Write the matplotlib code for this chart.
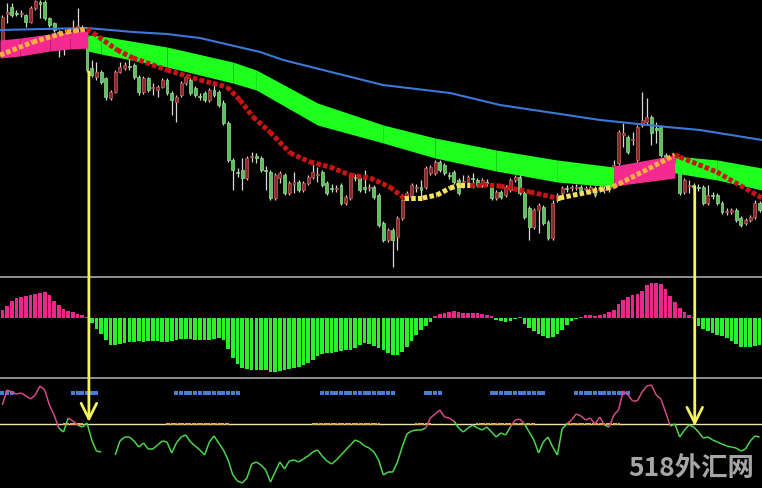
import numpy as np
import matplotlib.pyplot as plt
from matplotlib.collections import LineCollection
from matplotlib.patches import ConnectionPatch

# ---- candles (screen-level readings, axis is inverted: small = high) ----
c_open = [40, 14, 7, 13, 14, 15, 22, 8, 2, 2, 18, 23, 32, 40, 38, 30, 28, 27, 37, 68,
          77, 72, 78, 98, 92, 72, 68, 66, 65, 77, 92, 78, 88, 90, 87, 80, 93, 102, 95, 83,
          80, 88, 96, 93, 100, 90, 92, 103, 123, 160, 172, 170, 178, 157, 156, 158, 170, 172, 198, 178,
          175, 193, 184, 182, 190, 183, 177, 175, 172, 183, 188, 189, 185, 203, 198, 177, 178, 187, 188, 187,
          195, 223, 240, 230, 237, 218, 197, 197, 188, 187, 187, 173, 173, 162, 165, 175, 172, 180, 182, 182,
          178, 180, 185, 182, 185, 198, 192, 195, 190, 180, 177, 193, 208, 227, 210, 207, 222, 238, 200, 193,
          188, 188, 187, 187, 189, 192, 188, 190, 190, 188, 175, 163, 135, 137, 140, 160, 125, 122, 117, 128,
          127, 155, 160, 165, 172, 192, 186, 185, 187, 187, 203, 195, 195, 203, 212, 212, 210, 218, 223, 220,
          217, 203]
c_close = [17, 12, 15, 14, 13, 22, 8, 1, 4, 18, 25, 30, 40, 38, 36, 28, 26, 35, 70, 75,
           72, 82, 97, 92, 72, 67, 65, 67, 77, 92, 78, 90, 87, 87, 80, 93, 100, 97, 83, 77,
           93, 95, 97, 100, 90, 95, 105, 123, 160, 170, 173, 178, 158, 156, 158, 170, 171, 198, 175, 173,
           193, 183, 182, 190, 183, 177, 172, 174, 185, 193, 189, 188, 203, 197, 175, 178, 190, 189, 187, 197,
           225, 240, 230, 240, 218, 200, 193, 185, 187, 190, 168, 167, 162, 170, 173, 176, 182, 193, 181, 177,
           179, 185, 180, 183, 198, 192, 197, 187, 180, 177, 193, 217, 227, 210, 205, 223, 238, 203, 195, 188,
           189, 187, 187, 190, 188, 187, 195, 187, 189, 186, 165, 132, 133, 152, 139, 127, 120, 117, 133, 130,
           155, 160, 165, 170, 193, 180, 185, 187, 188, 203, 195, 196, 203, 212, 211, 210, 220, 225, 220, 217,
           203, 210]
c_top = [15, 3, 3, 10, 10, 14, 6, 0, 0, 0, 17, 22, 30, 35, 33, 20, 8, 25, 35, 60,
         62, 70, 77, 90, 70, 62, 62, 58, 63, 75, 76, 77, 83, 85, 78, 78, 91, 95, 81, 75,
         78, 86, 93, 91, 88, 85, 90, 100, 121, 158, 168, 158, 156, 152, 153, 156, 166, 170, 173, 171,
         173, 181, 172, 180, 181, 175, 163, 167, 170, 181, 184, 185, 183, 195, 173, 174, 176, 170, 184, 185,
         193, 221, 228, 228, 216, 198, 191, 183, 184, 180, 166, 165, 160, 160, 163, 172, 170, 178, 175, 175,
         173, 178, 178, 179, 183, 190, 190, 185, 178, 175, 175, 191, 206, 208, 203, 205, 220, 200, 193, 186,
         185, 185, 184, 185, 186, 185, 186, 185, 186, 180, 160, 130, 123, 135, 132, 125, 92, 98, 115, 122,
         125, 153, 158, 163, 170, 178, 180, 183, 184, 185, 185, 192, 193, 201, 208, 208, 208, 216, 218, 215,
         200, 201]
c_bot = [42, 23, 17, 16, 17, 27, 23, 10, 18, 20, 27, 32, 57, 55, 42, 34, 32, 38, 72, 77,
         80, 84, 100, 100, 93, 73, 70, 70, 79, 95, 94, 92, 95, 97, 88, 95, 115, 122, 97, 85,
         95, 97, 100, 102, 102, 97, 107, 125, 162, 190, 177, 190, 180, 162, 163, 172, 190, 200, 200, 183,
         195, 195, 193, 192, 192, 185, 179, 182, 187, 195, 192, 192, 205, 205, 200, 181, 192, 193, 191, 199,
         227, 242, 242, 267, 250, 220, 199, 199, 192, 197, 189, 175, 175, 172, 175, 179, 184, 195, 188, 184,
         188, 187, 187, 186, 200, 200, 199, 197, 192, 182, 195, 219, 240, 229, 233, 225, 240, 240, 202, 195,
         192, 191, 190, 192, 192, 194, 197, 192, 193, 192, 175, 165, 147, 154, 145, 162, 127, 124, 145, 143,
         157, 162, 168, 172, 195, 194, 193, 190, 191, 205, 205, 199, 205, 214, 215, 214, 222, 227, 225, 222,
         219, 212]

# ---- slow moving average (blue) ----
ma_bar = [-0.5, 18, 27.8, 35, 42, 54.8, 59.7, 80.9, 95.2, 105.8, 127.1, 141.3, 148.3, 161.5]
ma_lvl = [30, 28, 32, 34, 38, 52, 60, 85, 93, 105, 120, 127, 130, 140]

# ---- trend ribbon ----
band_bar = [-0.5, 3.8, 10.1, 14.4, 18.2, 18.2, 21, 35, 49, 54, 67, 81, 92, 105, 118,
            130, 130, 143, 143, 152, 161.5]
band_top = [40, 38, 34, 32, 31, 35, 36, 47, 62, 70, 103, 125, 138, 150, 160,
            167, 166, 155, 156, 160, 168]
band_bot = [58, 56, 51, 49, 48, 51, 54, 67, 83, 90, 125, 143, 158, 171, 182,
            187, 186, 178, 173, 180, 190]
band_col = ['P', 'P', 'P', 'P', 'P', 'G', 'G', 'G', 'G', 'G', 'G', 'G', 'G', 'G',
            'G', 'G', 'P', 'P', 'G', 'G']

# ---- stepped signal line (dotted) ----
dots_bar = [-0.5, 6.5, 13.7, 18.0, 19.3, 24.4, 27.8, 35, 42, 47.8, 50.5, 53.3, 56.9, 61.2,
            65.4, 69.7, 73.9, 78.2, 82.4, 85.4, 89.4, 92.4, 95.2, 97.3, 99.4, 102.2, 105.8,
            112.2, 117.9, 118.5, 129.8, 143, 144, 151.9, 161.5]
dots_lvl = [55, 42, 32, 29, 33, 50, 58, 70, 80, 87, 100, 117, 132, 153,
            162, 167, 175, 178, 187, 198, 198, 195, 188, 185, 185, 185, 186,
            192, 198, 198, 187, 155, 157, 172, 198]
dots_col = ['O', 'O', 'O', 'R', 'R', 'R', 'R', 'R', 'R', 'R', 'R', 'R', 'R', 'R',
            'R', 'R', 'R', 'R', 'R', 'Y', 'Y', 'Y', 'Y', 'Y', 'R', 'R', 'R',
            'R', 'Y', 'Y', 'O', 'R', 'R', 'R']

# ---- histogram ----
hist = [8, 12, 17, 20, 21, 22, 23, 24, 25, 26, 23, 17, 13, 9, 7, 6, 4, 3, 1, -5,
        -11, -16, -22, -27, -27, -26, -25, -24, -24, -23, -24, -23, -23, -23, -24, -24, -23, -22, -21, -21,
        -21, -22, -22, -22, -22, -21, -20, -22, -31, -40, -46, -50, -51, -52, -52, -52, -52, -54, -54, -53,
        -52, -51, -50, -49, -47, -45, -42, -38, -36, -35, -35, -34, -33, -32, -32, -30, -27, -25, -26, -28,
        -30, -32, -35, -37, -37, -34, -29, -23, -17, -12, -8, -4, 2, 4, 5, 6, 7, 6, 5, 5,
        5, 5, 4, 3, 2, -2, -3, -4, -3, -1, 1, -6, -10, -13, -16, -18, -20, -19, -16, -12,
        -7, -3, -1, 1, 3, 3, 2, 3, 4, 6, 8, 14, 18, 21, 23, 24, 27, 33, 35, 35,
        34, 29, 22, 16, 10, 6, 3, 1, -8, -11, -13, -15, -17, -18, -20, -23, -26, -29, -29, -29,
        -28, -27]

# ---- oscillator (screen-level readings, inverted axis) ----
osc = [405, 390, 392, 394, 393, 396, 399, 395, 386, 390, 405, 415, 428, 432, 418, 421, 425, 427, 423, 440,
       451, 452, np.nan, np.nan, 455, 441, 437, 437, 441, 447, 443, 449, 449, 445, 441, 442, 453, 443, 437, 435,
       442, 446, 450, 455, 442, 436, 443, 450, 460, 475, 481, 483, 478, 464, 462, 465, 470, 482, 472, 462,
       469, 461, 460, 462, 459, 456, 452, 450, 456, 461, 464, 460, 455, 450, 445, 440, 442, 446, 448, 452,
       460, 475, 472, 472, 462, 447, 434, 431, 430, 430, 428, 418, 414, 410, 417, 418, 421, 428, 432, 428,
       425, 428, 430, 427, 432, 437, 433, 435, 427, 420, 419, 424, 432, 440, 453, 442, 437, 447, 455, 429,
       424, 420, 414, 416, 420, 418, 424, 417, 425, 427, 415, 410, 391, 395, 401, 401, 392, 386, 385, 395,
       399, 412, 426, 424, 437, 430, 425, 427, 432, 438, 437, 440, 442, 444, 446, 447, 448, 451, 449, 441,
       436, 437]
osc_mid = 424
flag_lvl = 393
blue_runs = [(0, 2), (15, 20), (37, 50), (68, 83), (90, 93), (104, 115), (122, 133)]
gold_runs = [(13, 17), (35, 48), (66, 80), (88, 91), (101, 113), (120, 131)]

# ---- signal arrows: bar, start level (main), end level (oscillator) ----
arrow_bar = [18.4, 147.2]
arrow_from = [72, 187]
arrow_to = [422, 426]

n = len(c_open)
x = np.arange(n)

fig = plt.figure(figsize=(7.62, 4.88), dpi=100, facecolor='black')
ax = fig.add_axes([0, 211 / 488, 1, 277 / 488])
ax2 = fig.add_axes([0, 110 / 488, 1, 101 / 488])
ax3 = fig.add_axes([0, 0, 1, 110 / 488])

for a in (ax, ax2, ax3):
    a.set_facecolor('black')
    a.set_xlim(-0.5, n - 0.5)
    a.set_xticks([])
    a.set_yticks([])
    for s in a.spines.values():
        s.set_visible(False)

# main panel
ax.set_ylim(277, 0)
o = np.array(c_open, float)
c = np.array(c_close, float)
down = c > o
ax.vlines(x, c_top, c_bot, color='#d8d8d8', lw=0.9, zorder=2)
body_lo = np.minimum(o, c)
body_h = np.maximum(np.abs(o - c), 1.0)
ax.bar(x[down], body_h[down], bottom=body_lo[down], width=0.62,
       color='#5cc05c', edgecolor='#8fe08f', lw=0.5, zorder=3)
ax.bar(x[~down], body_h[~down], bottom=body_lo[~down], width=0.62,
       color='#8a2a2a', edgecolor='#c85a5a', lw=0.5, zorder=3)

ax.plot(ma_bar, ma_lvl, color='#3c78d8', lw=1.5, zorder=4)

band_colors = {'P': '#f52a90', 'G': '#1eff1e'}
for k in range(len(band_bar) - 1):
    if band_bar[k + 1] <= band_bar[k]:
        continue
    ax.fill_between(band_bar[k:k + 2], band_top[k:k + 2], band_bot[k:k + 2],
                    color=band_colors[band_col[k]], lw=0, zorder=5)

dot_colors = {'R': '#c81414', 'Y': '#f5e060', 'O': '#ffb040'}
for k in range(len(dots_bar) - 1):
    ax.plot(dots_bar[k:k + 2], dots_lvl[k:k + 2], color=dot_colors[dots_col[k]],
            lw=3.6, linestyle=(0, (0.9, 0.45)), dash_capstyle='butt', zorder=6)

# histogram panel
ax2.set_ylim(-60, 41)
h = np.array(hist, float)
ax2.bar(x, h, width=0.78, color=np.where(h >= 0, '#e8298c', '#2cf02c'), lw=0, zorder=2)
ax2.spines['top'].set_visible(True)
ax2.spines['top'].set_color('#a8a8a8')
ax2.spines['top'].set_linewidth(1.2)

# oscillator panel
ax3.set_ylim(488, 378)
ax3.spines['top'].set_visible(True)
ax3.spines['top'].set_color('#a8a8a8')
ax3.spines['top'].set_linewidth(1.2)
ax3.axhline(osc_mid, color='#f0e2b8', lw=1.0, zorder=2)

for a0, a1 in blue_runs:
    xs = np.arange(a0, a1 + 1)
    ax3.scatter(xs, np.full(len(xs), flag_lvl), marker='s', s=6, color='#4a7ce0', lw=0, zorder=3)
for a0, a1 in gold_runs:
    xs = np.arange(a0, a1 + 0.5, 0.5)
    ax3.scatter(xs, np.full(len(xs), osc_mid), marker='s', s=1.2, color='#e0b050', lw=0, zorder=3)

ov = np.array(osc, float)
segs, cols = [], []
for k in range(n - 1):
    if np.isnan(ov[k]) or np.isnan(ov[k + 1]):
        continue
    segs.append([(k, ov[k]), (k + 1, ov[k + 1])])
    cols.append('#d24c86' if (ov[k] + ov[k + 1]) / 2 < osc_mid else '#4cd64c')
ax3.add_collection(LineCollection(segs, colors=cols, linewidths=1.1, zorder=4))

# arrows linking the main chart to the oscillator
for b, y0, y1 in zip(arrow_bar, arrow_from, arrow_to):
    con = ConnectionPatch(xyA=(b, y0), coordsA=ax.transData, xyB=(b, y1), coordsB=ax3.transData,
                          arrowstyle='->,head_length=0.8,head_width=0.4', mutation_scale=14,
                          color='#f4f45a', lw=2.0, shrinkA=0, shrinkB=0, zorder=10)
    fig.add_artist(con)

fig.text(628 / 762, 12 / 488, '518外汇网', fontsize=19, fontweight='bold', color='#a6a6a6',
         family=['Noto Sans CJK SC', 'DejaVu Sans'], ha='left', va='baseline', zorder=11)

fig.savefig('out.png', dpi=100, facecolor='black')
